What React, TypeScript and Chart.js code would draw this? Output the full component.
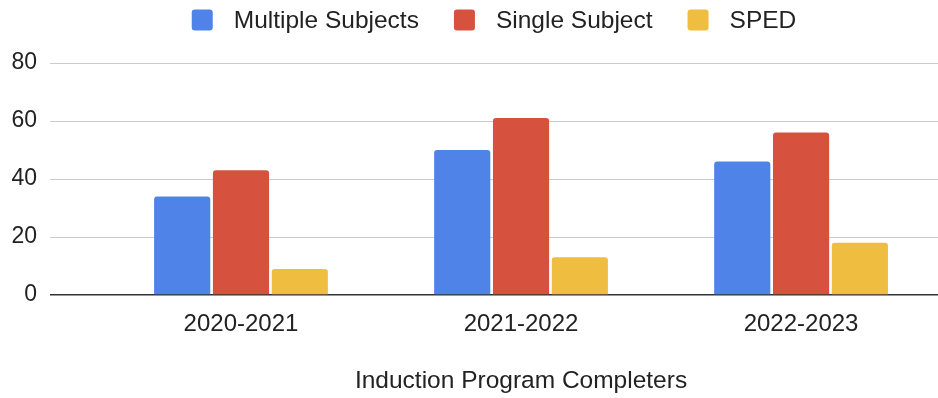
import React, { useEffect, useRef } from "react";
import { Chart, registerables } from "chart.js";

Chart.register(...registerables);

const categories = ["2020-2021", "2021-2022", "2022-2023"];
const seriesNames = ["Multiple Subjects", "Single Subject", "SPED"];
const multipleSubjects = [34, 50, 46];
const singleSubject = [43, 61, 56];
const sped = [9, 13, 18];
const seriesColors = ["#5083E8", "#D6523F", "#EFBD40"];
const axisTitle = "Induction Program Completers";
const yMin = 0;
const yMax = 80;
const yStep = 20;

const FONT = "Arial, 'Liberation Sans', sans-serif";
const TEXT = "#222222";

// Legend drawn along the top, centred over the plot area
const topLegend = {
  id: "topLegend",
  afterDraw(chart: any) {
    const { ctx, chartArea } = chart;
    const box = 21;
    const gapText = 21;
    const gapItem = 35;
    ctx.save();
    ctx.font = `24.5px ${FONT}`;
    const items = chart.data.datasets.map((ds: any) => ({
      label: ds.label as string,
      color: ds.backgroundColor as string,
      w: ctx.measureText(ds.label).width,
    }));
    const total =
      items.reduce((s: number, it: any) => s + box + gapText + it.w, 0) +
      gapItem * (items.length - 1);
    let x = (chartArea.left + chart.width) / 2 - total / 2;
    const cy = 20;
    ctx.textBaseline = "middle";
    ctx.textAlign = "left";
    for (const it of items) {
      ctx.fillStyle = it.color;
      ctx.beginPath();
      ctx.roundRect(x, cy - box / 2, box, box, 3);
      ctx.fill();
      ctx.fillStyle = TEXT;
      ctx.fillText(it.label, x + box + gapText, cy + 1);
      x += box + gapText + it.w + gapItem;
    }
    ctx.restore();
  },
};

// Axis title centred under the middle category
const bottomTitle = {
  id: "bottomTitle",
  afterDraw(chart: any) {
    const { ctx } = chart;
    const xs = chart.scales.x;
    ctx.save();
    ctx.font = `24.5px ${FONT}`;
    ctx.fillStyle = TEXT;
    ctx.textAlign = "center";
    ctx.textBaseline = "middle";
    ctx.fillText(axisTitle, xs.getPixelForValue((categories.length - 1) / 2), 381);
    ctx.restore();
  },
};

export default function App() {
  const ref = useRef<HTMLCanvasElement>(null);

  useEffect(() => {
    if (!ref.current) return;
    const series = [multipleSubjects, singleSubject, sped];
    const chart = new Chart(ref.current, {
      type: "bar",
      data: {
        datasets: series.map((vals, si) => ({
          label: seriesNames[si],
          data: vals.map((v, i) => ({ x: i, y: v })),
          backgroundColor: seriesColors[si],
          borderWidth: 0,
          borderRadius: { topLeft: 3, topRight: 3, bottomLeft: 0, bottomRight: 0 },
          borderSkipped: "bottom",
          categoryPercentage: 0.63,
          barPercentage: 0.955,
        })),
      },
      options: {
        animation: false,
        responsive: true,
        maintainAspectRatio: false,
        layout: { padding: { top: 63, right: 0, bottom: 0, left: 0 } },
        plugins: {
          legend: { display: false },
          tooltip: { enabled: false },
        },
        scales: {
          x: {
            type: "linear",
            offset: false,
            bounds: "data",
            min: -0.682,
            max: 2.489,
            grid: { display: false, offset: false },
            border: { display: false },
            afterBuildTicks: (s: any) => {
              s.ticks = categories.map((_, i) => ({ value: i }));
            },
            afterFit: (s: any) => {
              s.height = 103;
            },
            ticks: {
              autoSkip: false,
              maxRotation: 0,
              padding: 7,
              color: TEXT,
              font: { family: FONT, size: 24 },
              callback: (v: any) => categories[v as number] ?? "",
            },
          },
          y: {
            min: yMin,
            max: yMax,
            afterFit: (s: any) => {
              s.width = 50;
            },
            border: { display: false },
            grid: {
              drawTicks: false,
              lineWidth: (c: any) => (c.tick && c.tick.value === 0 ? 1.5 : 1),
              color: (c: any) => (c.tick && c.tick.value === 0 ? "#333333" : "#CCCCCC"),
            },
            ticks: {
              stepSize: yStep,
              padding: 13,
              color: TEXT,
              font: { family: FONT, size: 23 },
            },
          },
        },
      },
      plugins: [topLegend, bottomTitle],
    });
    return () => chart.destroy();
  }, []);

  return (
    <div style={{ position: "absolute", left: 0, top: 0, width: 938, height: 398, background: "#fff" }}>
      <canvas ref={ref} />
    </div>
  );
}
